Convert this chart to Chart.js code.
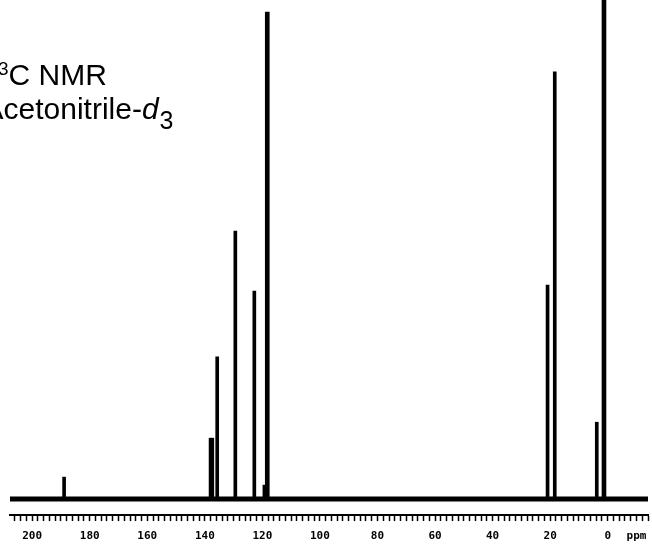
<!DOCTYPE html>
<html>
<head>
<meta charset="utf-8">
<script src="https://cdn.jsdelivr.net/npm/chart.js"></script>
<style>
  html, body { margin: 0; padding: 0; background: #fff; overflow: hidden; }
  #wrap { position: relative; width: 652px; height: 544px; overflow: hidden; }
  #spec { position: absolute; left: 0; top: 0; }
  .lbl {
    position: absolute; white-space: nowrap; color: #000;
    font-family: "Liberation Sans", Arial, sans-serif; font-size: 30px; line-height: 30px;
  }
  .sup { font-size: 19px; position: relative; top: -10px; }
  .sub { font-size: 25px; position: relative; top: 10px; margin-left: 1px; }
</style>
</head>
<body>
<div id="wrap">
  <canvas id="spec" width="652" height="544"></canvas>
  <div class="lbl" style="left:-12.6px; top:59.6px;"><span class="sup">13</span>C NMR</div>
  <div class="lbl" style="left:-16.5px; top:93.6px;">Acetonitrile-<i>d</i><span class="sub">3</span></div>
</div>
<script>
// 13C spectrum in acetonitrile-d3: chemical shift (ppm) and relative intensity
const peakShifts  = [188.9, 138.0, 137.4, 135.7, 129.4, 122.8, 119.3, 20.9, 18.4, 3.8];
const peakHeights = [4.4, 12.2, 12.2, 28.5, 53.7, 41.7, 2.8, 42.9, 85.6, 15.4];

// solvent signals (CD3CN)
const solventShifts  = [118.3, 1.3];
const solventHeights = [97.6, 100];

// spectral window (ppm) and axis ticks
const ppmStart = 207.7;
const ppmEnd = -14;
const labelledTicks = [200, 180, 160, 140, 120, 100, 80, 60, 40, 20, 0];
const unitTick = -10;
const unitLabel = 'ppm';

const toPoints = (xs, ys) => xs.map((x, i) => ({ x: x, y: ys[i] }));

new Chart(document.getElementById('spec'), {
  type: 'bar',
  data: {
    datasets: [
      {
        type: 'line',
        data: [{ x: ppmStart, y: 0 }, { x: ppmEnd, y: 0 }],
        borderColor: '#000',
        borderWidth: 5,
        borderCapStyle: 'round',
        pointRadius: 0,
        order: 2
      },
      {
        data: toPoints(peakShifts, peakHeights),
        backgroundColor: '#000',
        borderWidth: 0,
        barThickness: 3,
        grouped: false,
        order: 1
      },
      {
        data: toPoints(solventShifts, solventHeights),
        backgroundColor: '#000',
        borderWidth: 0,
        barThickness: 4,
        grouped: false,
        order: 1
      }
    ]
  },
  options: {
    responsive: false,
    animation: false,
    events: [],
    layout: { padding: { left: 10, right: 4, top: 0, bottom: -8.2 } },
    plugins: { legend: { display: false }, tooltip: { enabled: false } },
    scales: {
      x: {
        type: 'linear',
        reverse: true,
        min: ppmEnd,
        max: ppmStart,
        offset: false,
        border: { display: true, color: '#000', width: 2 },
        grid: {
          offset: false,
          drawOnChartArea: false,
          drawTicks: true,
          tickLength: 6,
          tickWidth: 1.5,
          tickColor: '#000'
        },
        ticks: {
          stepSize: 2,
          includeBounds: false,
          autoSkip: false,
          maxRotation: 0,
          padding: 1,
          color: '#000',
          font: { family: '"DejaVu Sans Mono", monospace', size: 11, weight: 'bold', lineHeight: 2.65 },
          callback: (v) => {
            if (labelledTicks.includes(v)) return String(v);
            if (v === unitTick) return unitLabel;
            return '';
          }
        }
      },
      y: {
        display: false,
        min: -3.2,
        max: 100
      }
    }
  }
});
</script>
</body>
</html>
